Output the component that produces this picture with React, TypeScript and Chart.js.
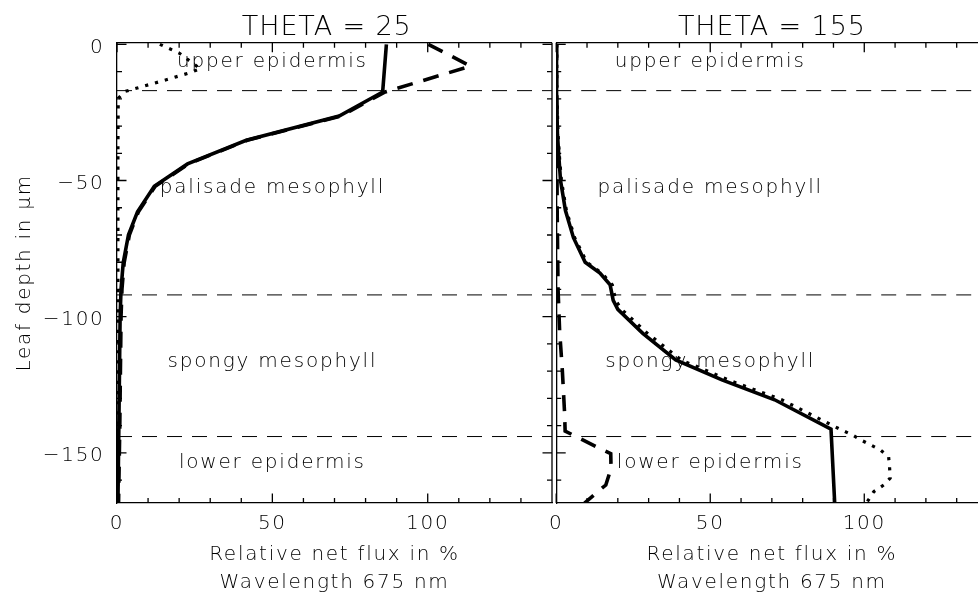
import React, { useEffect, useRef } from 'react';
import { Chart, registerables } from 'chart.js';

Chart.register(...registerables);

const FONT_FAMILY = "'DejaVu Sans', 'Liberation Sans', sans-serif";
const FONT_WEIGHT = 200;

// ---------- text and tick labels ----------
const panelTitles = ['THETA = 25', 'THETA = 155'];
const layerNames = ['upper epidermis', 'palisade mesophyll', 'spongy mesophyll', 'lower epidermis'];
const xTickValues = [0, 50, 100];
const yTickValues = [0, -50, -100, -150];
const xAxisTitleLines = ['Relative net flux in %', 'Wavelength 675 nm'];
const yAxisTitle = 'Leaf depth in \u03bcm';

// ---------- layer boundaries (leaf depth, µm) ----------
const layerBoundaries = [-17, -92, -144];

// ---------- THETA = 25 ----------
// net flux (solid)
const t25NetDepth = [0, -17.5, -26.3, -35.2, -43.9, -52.1, -61.5, -69.9, -80.2, -89.9, -100, -120, -140, -168.4];
const t25NetFlux = [86.7, 85.5, 71.5, 41.6, 22.7, 12.0, 6.6, 3.7, 2.0, 1.3, 1.0, 0.8, 0.6, 0.3];
// downward flux (dashed)
const t25DownDepth = [0, -8, -17.5, -26.3, -35.2, -43.9, -52.1, -61.5, -69.9, -80.2, -89.9, -100, -120, -140, -168.4];
const t25DownFlux = [100.2, 113.8, 86.3, 72.0, 41.9, 23.0, 12.3, 6.9, 4.0, 2.3, 1.6, 1.3, 1.1, 0.9, 0.5];
// upward flux (dotted)
const t25UpDepth = [0, -3.2, -9, -10.6, -12.8, -17.3, -19.8, -40, -80, -120, -168.4];
const t25UpFlux = [13.8, 20.0, 26.8, 22.9, 16.5, 2.6, 0.4, 0.3, 0.3, 0.3, 0.2];

// ---------- THETA = 155 ----------
// net flux (solid)
const t155NetDepth = [0, -17, -33, -42, -50, -61, -71, -80, -84, -88.3, -94, -97.3, -106.1, -115.9, -123.2, -130.5, -141.3, -168.4];
const t155NetFlux = [0.1, 0.1, 0.4, 0.9, 1.4, 3.0, 5.6, 9.4, 14.2, 17.5, 18.5, 20.0, 28.1, 38.8, 53.8, 70.9, 89.2, 90.4];
// downward flux (dashed)
const t155DownDepth = [0, -60, -90, -105, -120, -135, -142, -147.7, -150.3, -155.7, -161.8, -164.8, -168.4];
const t155DownFlux = [0.1, 0.3, 0.6, 1.1, 2.0, 2.7, 2.9, 12.9, 17.7, 17.8, 16.1, 12.9, 9.2];
// upward flux (dotted)
const t155UpDepth = [0, -17, -33, -42, -50, -61, -71, -80, -84, -88.3, -94, -97.3, -106.1, -115.9, -123.2, -130.5, -141.3, -143.4, -145.2, -148.9, -151.4, -155, -159.3, -161.8, -164.2, -168.4];
const t155UpFlux = [0.2, 0.2, 0.6, 1.1, 1.7, 3.3, 6.0, 9.9, 14.8, 18.2, 19.3, 21.2, 29.6, 40.6, 55.8, 73.2, 92.1, 96.1, 98.8, 105.2, 107.9, 108.2, 108.4, 106.3, 103.1, 100.7];

type Series = { depth: number[]; flux: number[] };

type PanelSpec = {
  title: string;
  titleCenter: number;
  net: Series;
  down: Series;
  up: Series;
  showYAxisText: boolean;
  canvasLeft: number;
  canvasWidth: number;
  padRight: number;
  yAxisWidth: number;
  xMax: number;
  rightBorder: boolean;
};

const CANVAS_HEIGHT = 595;
const PLOT_TOP = 42.7;
const PLOT_BOTTOM = 503;
const Y_MIN = -168.4;
const Y_MAX = 0.6;

// label anchors (axis units): centred at flux = 50
const labelAnchorFlux = 50;
const labelAnchorDepths = [-6.3, -52.7, -116.5, -153.8];

const panels: PanelSpec[] = [
  {
    title: panelTitles[0],
    titleCenter: 67.5,
    net: { depth: t25NetDepth, flux: t25NetFlux },
    down: { depth: t25DownDepth, flux: t25DownFlux },
    up: { depth: t25UpDepth, flux: t25UpFlux },
    showYAxisText: true,
    canvasLeft: 0,
    canvasWidth: 560,
    padRight: 8,
    yAxisWidth: 117,
    xMax: 140,
    rightBorder: true,
  },
  {
    title: panelTitles[1],
    titleCenter: 70,
    net: { depth: t155NetDepth, flux: t155NetFlux },
    down: { depth: t155DownDepth, flux: t155DownFlux },
    up: { depth: t155UpDepth, flux: t155UpFlux },
    showYAxisText: false,
    canvasLeft: 540,
    canvasWidth: 450,
    padRight: 2.5,
    yAxisWidth: 12.5,
    xMax: 140,
    rightBorder: false,
  },
];

const fmtTick = (v: number | string) => {
  const n = Number(v);
  return n < 0 ? '\u2212' + Math.abs(n) : String(n);
};

function makeDecor(p: PanelSpec) {
  return {
    id: 'leafDecor',
    beforeUpdate(chart: any) {
      chart.ctx.letterSpacing = '1.7px';
    },
    beforeDraw(chart: any) {
      chart.ctx.letterSpacing = '1.7px';
    },
    afterDraw(chart: any) {
      const { ctx, chartArea } = chart;
      const { left, right, top, bottom } = chartArea;
      const xs = chart.scales.x;
      const ys = chart.scales.y;
      ctx.save();
      // box lines and inward ticks
      ctx.strokeStyle = '#000';
      ctx.lineWidth = 1.3;
      ctx.beginPath();
      ctx.moveTo(left, top);
      ctx.lineTo(right, top);
      if (p.rightBorder) {
        ctx.moveTo(right, top);
        ctx.lineTo(right, bottom);
      }
      for (let v = 0; v <= p.xMax; v += 10) {
        const px = xs.getPixelForValue(v);
        const len = xTickValues.includes(v) ? 9.5 : 5;
        ctx.moveTo(px, bottom);
        ctx.lineTo(px, bottom - len);
        ctx.moveTo(px, top);
        ctx.lineTo(px, top + len);
      }
      for (let v = 0; v >= Y_MIN; v -= 10) {
        const py = ys.getPixelForValue(v);
        const len = yTickValues.includes(v) ? 9.5 : 5;
        ctx.moveTo(left, py);
        ctx.lineTo(left + len, py);
        if (p.rightBorder) {
          ctx.moveTo(right, py);
          ctx.lineTo(right - len, py);
        }
      }
      ctx.stroke();

      // panel title
      ctx.fillStyle = '#000';
      ctx.letterSpacing = '0.9px';
      ctx.font = `${FONT_WEIGHT} 27px ${FONT_FAMILY}`;
      ctx.textAlign = 'center';
      ctx.textBaseline = 'alphabetic';
      ctx.fillText(p.title, xs.getPixelForValue(p.titleCenter), top - 7.7);

      // layer labels
      ctx.letterSpacing = '1.8px';
      ctx.font = `${FONT_WEIGHT} 20px ${FONT_FAMILY}`;
      ctx.textBaseline = 'middle';
      layerNames.forEach((name, i) => {
        ctx.fillText(name, xs.getPixelForValue(labelAnchorFlux), ys.getPixelForValue(labelAnchorDepths[i]));
      });
      ctx.restore();
    },
  };
}

function makeConfig(p: PanelSpec): any {
  const toPts = (s: Series) => s.depth.map((d, i) => ({ x: s.flux[i], y: d }));
  const curve = (s: Series, dash: number[], label: string, width: number) => ({
    label,
    data: toPts(s),
    showLine: true,
    borderColor: '#000',
    backgroundColor: '#000',
    borderWidth: width,
    borderDash: dash,
    borderCapStyle: 'butt',
    borderJoinStyle: 'miter',
    pointRadius: 0,
    pointHoverRadius: 0,
    tension: 0,
    fill: false,
  });
  const boundaries = layerBoundaries.map((b) => ({
    label: 'layer boundary',
    data: [
      { x: 0, y: b },
      { x: p.xMax, y: b },
    ],
    showLine: true,
    borderColor: '#000',
    borderWidth: 1,
    borderDash: [15, 10],
    pointRadius: 0,
    pointHoverRadius: 0,
    fill: false,
  }));
  const font = { family: FONT_FAMILY, size: 20, weight: FONT_WEIGHT };
  return {
    type: 'scatter',
    data: {
      datasets: [
        curve(p.net, [], 'net flux', 3.6),
        curve(p.down, [16, 11], 'downward flux', 3.6),
        curve(p.up, [3.2, 7], 'upward flux', 3.2),
        ...boundaries,
      ],
    },
    options: {
      animation: false,
      responsive: false,
      devicePixelRatio: 1,
      events: [],
      layout: { padding: { left: 0, right: p.padRight, top: PLOT_TOP, bottom: 0 } },
      plugins: {
        legend: { display: false },
        title: { display: false },
        tooltip: { enabled: false },
      },
      scales: {
        x: {
          type: 'linear',
          position: 'bottom',
          min: 0,
          max: p.xMax,
          afterBuildTicks: (s: any) => {
            s.ticks = xTickValues.filter((v) => v <= p.xMax).map((v) => ({ value: v }));
          },
          afterFit: (s: any) => {
            s.height = CANVAS_HEIGHT - PLOT_BOTTOM;
          },
          grid: { display: false, drawTicks: false },
          border: { display: true, color: '#000', width: 1.3 },
          ticks: {
            color: '#000',
            font,
            padding: 9,
            maxRotation: 0,
            autoSkip: false,
            callback: fmtTick,
          },
          title: {
            display: true,
            text: xAxisTitleLines,
            color: '#000',
            font: { family: FONT_FAMILY, size: 20, weight: FONT_WEIGHT, lineHeight: '28px' },
            padding: { top: 0, bottom: -2 },
          },
        },
        y: {
          type: 'linear',
          position: 'left',
          min: Y_MIN,
          max: Y_MAX,
          afterBuildTicks: (s: any) => {
            s.ticks = yTickValues.map((v) => ({ value: v }));
          },
          afterFit: (s: any) => {
            s.width = p.yAxisWidth;
          },
          grid: { display: false, drawTicks: false },
          border: { display: true, color: '#000', width: 1.3 },
          ticks: {
            display: p.showYAxisText,
            color: '#000',
            font,
            padding: 12.5,
            labelOffset: 3,
            autoSkip: false,
            callback: fmtTick,
          },
          title: {
            display: p.showYAxisText,
            text: yAxisTitle,
            color: '#000',
            font: { family: FONT_FAMILY, size: 20, weight: FONT_WEIGHT, lineHeight: '24px' },
            padding: { top: 13, bottom: 0 },
          },
        },
      },
    },
    plugins: [makeDecor(p)],
  };
}

function Panel({ spec }: { spec: PanelSpec }) {
  const ref = useRef<HTMLCanvasElement | null>(null);
  useEffect(() => {
    if (!ref.current) return;
    const chart = new Chart(ref.current, makeConfig(spec));
    return () => chart.destroy();
  }, [spec]);
  return (
    <canvas
      ref={ref}
      width={spec.canvasWidth}
      height={CANVAS_HEIGHT}
      style={{
        position: 'absolute',
        left: spec.canvasLeft,
        top: 0,
        width: spec.canvasWidth,
        height: CANVAS_HEIGHT,
      }}
    />
  );
}

export default function App() {
  return (
    <div
      style={{
        position: 'absolute',
        left: 0,
        top: 0,
        width: 978,
        height: CANVAS_HEIGHT,
        overflow: 'hidden',
        background: '#fff',
      }}
    >
      {panels.map((p) => (
        <Panel key={p.title} spec={p} />
      ))}
    </div>
  );
}
